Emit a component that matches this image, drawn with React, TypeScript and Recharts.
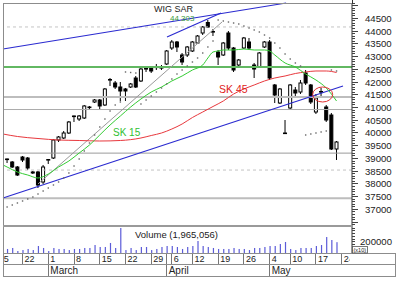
import React from "react";
import {
  ComposedChart,
  Bar,
  Line,
  XAxis,
  YAxis,
  ReferenceLine,
  ReferenceDot,
} from "recharts";

const FONT = "'Liberation Sans', Arial, sans-serif";

// trading day index: 0 = Feb 15, sessions only (Easter + May 3 skipped)
const FIRST_DAY = 2;

const opens = [
  38979, 38861, 38665, 39057, 39018, 38430, 38469, 38077, 38940, 39018,
  39724, 39803, 39999, 40647, 40548, 40588, 41000, 41216, 41294, 41098,
  42079, 41961, 41804, 41726, 41804, 42157, 42040, 42510, 42550, 42569,
  42550, 42707, 43334, 43570, 43060, 43060, 43217, 43530, 43923, 44335,
  43962, 43177, 43060, 43923, 43334, 42667, 43334, 43570, 42667, 42589,
  43374, 43570, 41883, 41176, 39999, 40980, 41686, 41608, 42353, 41883,
  40823, 41628, 41019, 40705, 39371,
];
const closes = [
  38959, 38665, 38351, 38940, 38626, 38469, 37959, 38665, 38959, 39724,
  39842, 39999, 40431, 40666, 40666, 41059, 41019, 41294, 41059, 41726,
  42098, 41804, 41647, 41647, 41922, 41804, 42510, 42530, 42432, 42589,
  42569, 43217, 43570, 43374, 42785, 43374, 43570, 43805, 44158, 44158,
  43982, 42981, 43530, 43334, 42471, 42864, 43727, 43334, 42510, 43138,
  43570, 42157, 41490, 41726, 39980, 41883, 41569, 41961, 41961, 41216,
  41372, 41608, 40509, 39371, 39646,
];
const highs = [
  38999, 38900, 38704, 39097, 39057, 38508, 38508, 38744, 38979, 39764,
  39881, 40078, 40470, 40686, 40705, 41098, 41059, 41333, 41333, 41765,
  42157, 42040, 42000, 41765, 41961, 42236, 42550, 42628, 42628, 42707,
  42667, 43256, 43648, 43609, 43138, 43413, 43609, 43844, 44197, 44433,
  44080, 43256, 43570, 44001, 43374, 42903, 43766, 43727, 42746, 43177,
  43609, 43648, 41922, 41765, 40509, 41922, 41804, 42079, 42471, 41922,
  41529, 41765, 41098, 40784, 39685,
];
const lows = [
  38822, 38626, 38312, 38861, 38547, 38390, 37841, 37998, 38783, 38979,
  39646, 39764, 39960, 40431, 40470, 40548, 40902, 41176, 40902, 41059,
  41843, 41726, 41255, 41255, 41765, 41765, 42000, 42393, 42353, 42471,
  42471, 42667, 43256, 43177, 42667, 42981, 43177, 43491, 43844, 44119,
  43805, 42667, 43020, 43256, 42393, 42628, 43295, 43256, 42157, 42550,
  43334, 42079, 41176, 41137, 39960, 40902, 41451, 41529, 41883, 41137,
  40745, 41451, 40431, 39332, 38940,
];
const volumes = [
  73000, 91000, 36000, 54000, 73000, 54000, 127000, 91000, 36000, 91000,
  73000, 73000, 54000, 73000, 73000, 91000, 91000, 145000, 109000, 109000,
  182000, 91000, 454000, 54000, 91000, 54000, 109000, 109000, 54000, 73000,
  109000, 127000, 127000, 109000, 73000, 109000, 127000, 218000, 127000, 109000,
  91000, 73000, 73000, 73000, 91000, 73000, 73000, 54000, 91000, 91000,
  109000, 127000, 127000, 163000, 200000, 73000, 54000, 91000, 91000, 91000,
  127000, 145000, 290000, 236000, 196506,
];
const sarValues = [
  37096, 37174, 37253, 37331, 37410, 37488, 37606, 37723, 37841, 37959,
  38077, 38234, 38430, 38704, 38979, 39293, 39607, 39921, 40235, 40548,
  40862, 41098, 41216, 42393, 42373, 42353, 41137, 41294, 41451, 41608,
  41765, 41922, 42118, 42314, 42471, 42628, 42785, 42942, 43138, 43374,
  43609, 44433, 44394, 44354, 44315, 44276, 44197, 44119, 44041, 43962,
  43844, 43727, 43530, 43334, 43099, 42903, 42746, 42628, 39921, 39960,
  39999, 40039, 40078, 42471, 42432,
];

const sk15Days = [1.2, 2, 4, 6, 8, 10, 12, 14, 16, 18, 20, 22, 24, 26, 28, 30, 32, 34, 36, 38, 40, 41, 42, 43, 44, 46, 48, 50, 52, 53, 54, 56, 58, 60, 62, 64, 66];
const sk15Values = [
  38744, 38665, 38469, 38351, 38234, 38390, 38665, 38900, 39214, 39528,
  39921, 40313, 40666, 41019, 41333, 41608, 41804, 42040, 42236, 42471,
  42667, 42942, 43177, 43217, 43256, 43256, 43295, 43256, 43256, 43217,
  43060, 42746, 42589, 42314, 42079, 41765, 41255,
];
const sk45Days = [1.2, 4, 8, 12, 16, 20, 24, 28, 30, 32, 34, 36, 38, 40, 42, 44, 46, 48, 50, 52, 54, 56, 58, 60, 62, 64, 66];
const sk45Values = [
  39960, 39862, 39783, 39724, 39705, 39685, 39705, 39803, 39901, 39999,
  40156, 40352, 40607, 40823, 41039, 41255, 41529, 41726, 41883, 42040,
  42157, 42236, 42334, 42393, 42432, 42432, 42373,
];

// drawn lines: [day, price] pairs
const upperChannel = [[1.2, 43295], [56.2, 45100]];
const upperShort = [[33.06, 43766], [43.55, 44708]];
const lowerChannel = [[1.2, 37449], [67.25, 41843]];
const riseTrend = [[8, 38000], [43.75, 44354]];
const levelPrices = [44160, 42590, 41410, 40920, 39210, 38545, 37440];
const levelStyles = [
  { stroke: "#c4c4c4", w: 1, dash: "3 3" },
  { stroke: "#62b862", w: 2, dash: undefined },
  { stroke: "#bdbdbd", w: 2, dash: undefined },
  { stroke: "#ababab", w: 1, dash: undefined },
  { stroke: "#9a9a9a", w: 1, dash: undefined },
  { stroke: "#c4c4c4", w: 1, dash: "3 3" },
  { stroke: "#bdbdbd", w: 2, dash: undefined },
];
const circledDay = 63.3;
const circledPrice = 41510;

const priceLabels = [37000, 37500, 38000, 38500, 39000, 39500, 40000, 40500, 41000, 41500, 42000, 42500, 43000, 43500, 44000, 44500];
const dateTicks = [0, 5, 10, 15, 20, 25, 30, 34, 38, 43, 48, 53, 57, 62, 67];
const dateLabels = ["15", "22", "1", "8", "15", "22", "29", "6", "12", "19", "26", "4", "10", "17", "24"];
const monthTicks = [10, 33, 53];
const monthLabels = ["March", "April", "May"];

const X_DOMAIN: [number, number] = [1.2, 69];
const Y_DOMAIN: [number, number] = [36350, 45100];

const priceTicks: number[] = [];
for (let v = 36400; v <= 45100; v += 100) priceTicks.push(v);
const volTicks: number[] = [];
for (let v = 0; v <= 450000; v += 50000) volTicks.push(v);

const candles = opens.map((o, k) => ({
  i: FIRST_DAY + k,
  o,
  c: closes[k],
  h: highs[k],
  l: lows[k],
  range: [lows[k], highs[k]],
}));
const volData = volumes.map((v, k) => ({ i: FIRST_DAY + k, v }));
const sarData = sarValues.map((v, k) => ({ i: FIRST_DAY + k, v }));
const sk15 = sk15Days.map((d, k) => ({ i: d, v: sk15Values[k] }));
const sk45 = sk45Days.map((d, k) => ({ i: d, v: sk45Values[k] }));
const seg = (p: number[][]) => p.map(([x, y]) => ({ x, y }));

const Candle = (props: any) => {
  const { x, y, width, height, payload } = props;
  if (!payload || !isFinite(y) || !isFinite(height)) return null;
  const { o, c, h, l } = payload;
  const cx = x + width / 2;
  const py = (v: number) => y + ((h - v) / (h - l)) * height;
  const top = py(Math.max(o, c));
  const bot = py(Math.min(o, c));
  const up = c >= o;
  return (
    <g>
      <line x1={cx} x2={cx} y1={y} y2={y + height} stroke="#000" strokeWidth={1} />
      <rect
        x={cx - 1.5}
        y={top}
        width={3}
        height={Math.max(bot - top, 0.6)}
        fill={up ? "#fff" : "#000"}
        stroke="#000"
        strokeWidth={1}
      />
    </g>
  );
};

const VolBar = (props: any) => {
  const { x, y, width, height } = props;
  if (!isFinite(y) || !isFinite(height)) return null;
  const cx = x + width / 2;
  return <rect x={cx - 0.6} y={y} width={1.2} height={height} fill="#5c5cd8" />;
};

const SarDot = (p: any) => (
  <rect key={`sar-${p.index}`} x={p.cx - 0.7} y={p.cy - 0.7} width={1.4} height={1.4} fill="#666" />
);

const PriceTick = (props: any) => {
  const { x, y, payload } = props;
  const v = payload.value;
  const five = v % 500 === 0;
  return (
    <g>
      <line x1={x} x2={x + (five ? 6 : 3)} y1={y} y2={y} stroke="#444" shapeRendering="crispEdges" />
      {priceLabels.includes(v) && (
        <text x={x + 13} y={y + 3.5} fontSize={9.6} fontFamily={FONT} fill="#222">
          {v}
        </text>
      )}
    </g>
  );
};

const VolTick = (props: any) => {
  const { x, y, payload } = props;
  const v = payload.value;
  return (
    <g>
      <line x1={x} x2={x + 3} y1={y} y2={y} stroke="#444" shapeRendering="crispEdges" />
      {v === 200000 && (
        <text x={x + 8} y={y + 3.5} fontSize={9.6} fontFamily={FONT} fill="#222">
          {v}
        </text>
      )}
    </g>
  );
};

const DateTick = (props: any) => {
  const { x, y, payload } = props;
  const k = dateTicks.indexOf(payload.value);
  return (
    <g clipPath="url(#dateClip)">
      <line x1={x} x2={x} y1={y} y2={y + 11} stroke="#777" shapeRendering="crispEdges" />
      <text x={x + 2} y={y + 9} fontSize={9} fontFamily={FONT} fill="#222">
        {dateLabels[k]}
      </text>
    </g>
  );
};

const MonthTick = (props: any) => {
  const { x, y, payload } = props;
  const k = monthTicks.indexOf(payload.value);
  return (
    <g>
      <line x1={x} x2={x} y1={y - 11} y2={y + 12} stroke="#777" shapeRendering="crispEdges" />
      <text x={x + 2} y={y + 10} fontSize={10} fontFamily={FONT} fill="#222">
        {monthLabels[k]}
      </text>
    </g>
  );
};

const Rule = ({ x, y, w, h, c = "#8c8c8c" }: { x: number; y: number; w: number; h: number; c?: string }) => (
  <div style={{ position: "absolute", left: x, top: y, width: w, height: h, background: c }} />
);

export default function App() {
  return (
    <div
      style={{
        position: "absolute",
        left: 0,
        top: 0,
        width: 400,
        height: 282,
        background: "#fff",
        overflow: "hidden",
        fontFamily: FONT,
      }}
    >
      <svg width={0} height={0} style={{ position: "absolute" }}>
        <defs>
          <clipPath id="dateClip" clipPathUnits="userSpaceOnUse">
            <rect x={3.5} y={0} width={346} height={300} />
          </clipPath>
        </defs>
      </svg>

      {/* price panel */}
      <div style={{ position: "absolute", left: 0, top: 0 }}>
        <ComposedChart
          width={400}
          height={226}
          data={candles}
          margin={{ top: 3, right: 0, bottom: 0, left: 3 }}
        >
          <XAxis dataKey="i" type="number" domain={X_DOMAIN} allowDataOverflow hide />
          <YAxis
            orientation="right"
            width={48}
            domain={Y_DOMAIN}
            allowDataOverflow
            ticks={priceTicks}
            interval={0}
            tick={<PriceTick />}
            tickSize={0}
            tickMargin={0}
            tickLine={false}
            axisLine={{ stroke: "#333" }}
          />
          {levelPrices.map((p, k) => (
            <ReferenceLine
              key={`lv-${k}`}
              y={p}
              stroke={levelStyles[k].stroke}
              strokeWidth={levelStyles[k].w}
              strokeDasharray={levelStyles[k].dash}
              ifOverflow="visible"
            />
          ))}
          <ReferenceLine segment={seg(upperChannel)} stroke="#2b2bd0" strokeWidth={1.2} ifOverflow="visible" />
          <ReferenceLine segment={seg(upperShort)} stroke="#2b2bd0" strokeWidth={1.2} ifOverflow="visible" />
          <ReferenceLine segment={seg(lowerChannel)} stroke="#2b2bd0" strokeWidth={1.2} ifOverflow="visible" />
          <ReferenceLine segment={seg(riseTrend)} stroke="#9a9a9a" strokeWidth={1} ifOverflow="visible" />
          <Line
            data={sk45}
            dataKey="v"
            type="monotone"
            stroke="#e8383d"
            strokeWidth={1}
            dot={false}
            isAnimationActive={false}
          />
          <Line
            data={sk15}
            dataKey="v"
            type="monotone"
            stroke="#33cc33"
            strokeWidth={1}
            dot={false}
            isAnimationActive={false}
          />
          <Bar dataKey="range" barSize={4} shape={<Candle />} isAnimationActive={false} />
          <Line
            data={sarData}
            dataKey="v"
            stroke="none"
            dot={SarDot}
            activeDot={false}
            isAnimationActive={false}
          />
          <ReferenceDot
            x={circledDay}
            y={circledPrice}
            ifOverflow="visible"
            shape={(p: any) => (
              <ellipse cx={p.cx} cy={p.cy} rx={10} ry={7.5} fill="none" stroke="#e03030" strokeWidth={1} />
            )}
          />
        </ComposedChart>
      </div>

      {/* volume panel with date rows */}
      <div style={{ position: "absolute", left: 0, top: 226 }}>
        <ComposedChart
          width={400}
          height={50}
          data={volData}
          margin={{ top: 0, right: 0, bottom: 0, left: 3 }}
        >
          <XAxis
            xAxisId="d"
            dataKey="i"
            type="number"
            domain={X_DOMAIN}
            allowDataOverflow
            ticks={dateTicks}
            interval={0}
            height={11}
            tickSize={0}
            tickMargin={0}
            tickLine={false}
            axisLine={false}
            tick={<DateTick />}
          />
          <XAxis
            xAxisId="m"
            dataKey="i"
            type="number"
            domain={X_DOMAIN}
            allowDataOverflow
            ticks={monthTicks}
            interval={0}
            height={12}
            tickSize={0}
            tickMargin={0}
            tickLine={false}
            axisLine={false}
            tick={<MonthTick />}
          />
          <YAxis
            orientation="right"
            width={48}
            domain={[0, 490000]}
            allowDataOverflow
            ticks={volTicks}
            interval={0}
            tick={<VolTick />}
            tickSize={0}
            tickMargin={0}
            tickLine={false}
            axisLine={{ stroke: "#333" }}
          />
          <Bar xAxisId="d" dataKey="v" barSize={2} shape={<VolBar />} isAnimationActive={false} />
        </ComposedChart>
      </div>

      {/* frame */}
      <Rule x={3} y={3} w={1} h={274} />
      <Rule x={3} y={3} w={349} h={1} />
      <Rule x={3} y={224.5} w={349} h={2} c="#9a9a9a" />
      <Rule x={3} y={253} w={392} h={1} />
      <Rule x={3} y={264} w={392} h={1} />
      <Rule x={3} y={276} w={392} h={1} />
      <Rule x={395} y={253} w={1} h={24} />
      <Rule x={352} y={0} w={1} h={4} c="#333" />

      {/* annotations */}
      <svg width={400} height={282} style={{ position: "absolute", left: 0, top: 0, pointerEvents: "none" }}>
        <text x={154} y={12} fontSize={9} fontFamily={FONT} fill="#222">
          WIG SAR
        </text>
        <text x={170} y={20.5} fontSize={8} fontFamily={FONT} fill="#3a9a3a">
          44 303
        </text>
        <text x={219} y={93} fontSize={10.5} fontFamily={FONT} fill="#e02020">
          SK 45
        </text>
        <text x={113} y={135.5} fontSize={10} fontFamily={FONT} fill="#30c030">
          SK 15
        </text>
        <text x={135} y={237.5} fontSize={9.5} fontFamily={FONT} fill="#222">
          Volume (1,965,056)
        </text>
        <rect x={352.5} y={246.5} width={15} height={6.5} fill="#fff" stroke="#555" strokeWidth={0.8} />
        <text x={353.5} y={252} fontSize={5.5} fontFamily={FONT} fill="#222">
          (x10)
        </text>
      </svg>
    </div>
  );
}
